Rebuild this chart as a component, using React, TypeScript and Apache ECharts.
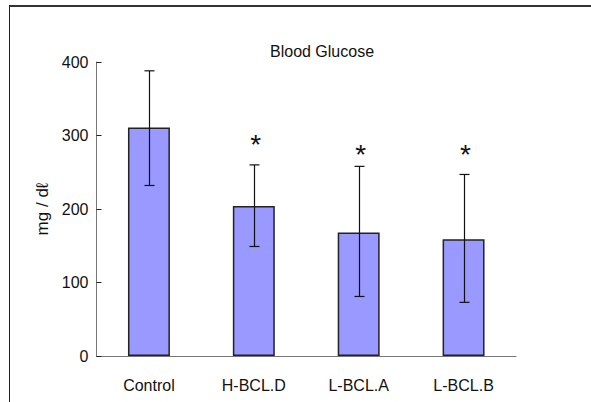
import React, { useEffect, useRef } from "react";
import * as echarts from "echarts";

const categories = ["Control", "H-BCL.D", "L-BCL.A", "L-BCL.B"];
const meanValues = [311, 204, 168, 159];
const errorLow = [232, 149, 81, 73];
const errorHigh = [388, 260, 258, 247];
const starValues: (number | null)[] = [null, 294, 281, 281];
const yTicks = [0, 100, 200, 300, 400];

const SANS = "'Liberation Sans', Arial, sans-serif";
const NARROW = "'Liberation Sans Narrow', 'Liberation Sans', Arial, sans-serif";

export default function App() {
  const ref = useRef<HTMLDivElement>(null);
  useEffect(() => {
    if (!ref.current) return;
    const chart = echarts.init(ref.current, undefined, { renderer: "svg" });
    const errData = categories.map((_, i) => [i, errorLow[i], errorHigh[i]]);
    const starData = starValues
      .map((v, i) => (v === null ? null : [i, v]))
      .filter((d) => d !== null) as number[][];
    chart.setOption({
      animation: false,
      backgroundColor: "#fff",
      title: {
        text: "Blood Glucose",
        left: 265,
        top: 38,
        textStyle: { fontFamily: SANS, fontSize: 16, fontWeight: "normal", color: "#111" },
      },
      graphic: [
        { type: "line", shape: { x1: 9, y1: 6, x2: 591, y2: 6 }, style: { stroke: "#333", lineWidth: 2 } },
        { type: "line", shape: { x1: 9.5, y1: 5, x2: 9.5, y2: 402 }, style: { stroke: "#222", lineWidth: 1 } },
      ],
      grid: { left: 96.5, right: 75, top: 62, bottom: 46 },
      xAxis: {
        type: "category",
        data: categories,
        axisLine: { lineStyle: { color: "#777", width: 1 } },
        axisTick: { inside: true, length: 5, lineStyle: { color: "#222" } },
        axisLabel: { margin: 21, fontFamily: SANS, fontSize: 16, color: "#111" },
      },
      yAxis: {
        type: "value",
        min: yTicks[0],
        max: yTicks[yTicks.length - 1],
        interval: 100,
        name: "mg / dℓ",
        nameLocation: "middle",
        nameGap: 34,
        nameRotate: 90,
        nameTextStyle: { fontFamily: SANS, fontSize: 17, color: "#111" },
        axisLine: { show: true, lineStyle: { color: "#777", width: 1 } },
        axisTick: { show: true, inside: true, length: 5, lineStyle: { color: "#222" } },
        splitLine: { show: false },
        axisLabel: { margin: 8, fontFamily: NARROW, fontSize: 16, color: "#111" },
      },
      series: [
        {
          type: "bar",
          data: meanValues,
          barWidth: "40%",
          itemStyle: { color: "#9999FF", borderColor: "#222", borderWidth: 1.5 },
        },
        {
          type: "custom",
          data: errData,
          z: 5,
          renderItem: (params: any, api: any) => {
            const lo = api.coord([api.value(0), api.value(1)]);
            const hi = api.coord([api.value(0), api.value(2)]);
            const x = Math.round(lo[0]) + 0.5;
            const cap = 5;
            const st = { stroke: "#111", lineWidth: 1.2 };
            return {
              type: "group",
              children: [
                { type: "line", shape: { x1: x, y1: lo[1], x2: x, y2: hi[1] }, style: st },
                { type: "line", shape: { x1: x - cap, y1: hi[1], x2: x + cap, y2: hi[1] }, style: st },
                { type: "line", shape: { x1: x - cap, y1: lo[1], x2: x + cap, y2: lo[1] }, style: st },
              ],
            };
          },
        },
        {
          type: "custom",
          data: starData,
          z: 6,
          renderItem: (params: any, api: any) => {
            const p = api.coord([api.value(0), api.value(1)]);
            return {
              type: "text",
              x: p[0] + 2,
              y: p[1] + 5,
              style: {
                text: "*",
                fontFamily: SANS,
                fontSize: 28,
                fill: "#111",
                align: "center",
                verticalAlign: "middle",
              },
            };
          },
        },
      ],
    });
    return () => chart.dispose();
  }, []);
  return (
    <div
      ref={ref}
      style={{ position: "fixed", left: 0, top: 0, width: 591, height: 402 }}
    />
  );
}
